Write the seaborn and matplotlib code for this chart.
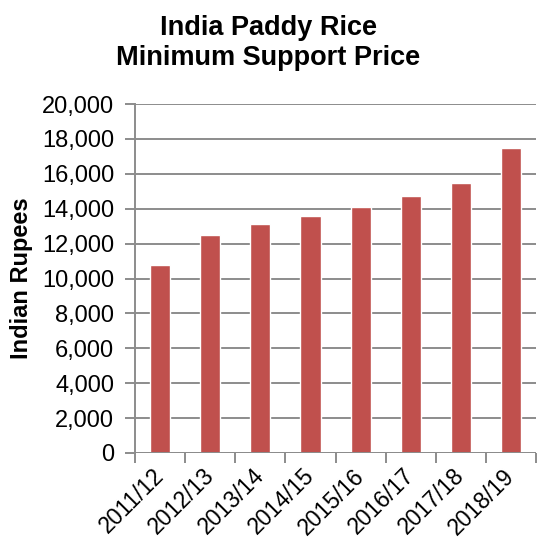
import matplotlib
matplotlib.use('Agg')
import matplotlib.pyplot as plt
import seaborn as sns
import pandas as pd
import numpy as np
from matplotlib.ticker import FuncFormatter, FixedLocator

years = ['2011/12', '2012/13', '2013/14', '2014/15', '2015/16', '2016/17', '2017/18', '2018/19']
msp = [10800, 12500, 13100, 13600, 14100, 14700, 15500, 17500]

df = pd.DataFrame({'year': years, 'msp': msp})

sns.set_style('white')
plt.rcParams['font.family'] = ['Liberation Sans', 'DejaVu Sans']
plt.rcParams['text.color'] = 'black'
plt.rcParams['axes.labelcolor'] = 'black'
plt.rcParams['xtick.labelcolor'] = 'black'
plt.rcParams['ytick.labelcolor'] = 'black'

fig = plt.figure(figsize=(5.37, 5.44), dpi=100)
ax = fig.add_axes([0.2514, 0.1673, 0.747, 0.6415])

sns.barplot(data=df, x='year', y='msp', color='#C0504D', width=0.4,
            saturation=1, ax=ax, zorder=3)

ax.set_ylim(0, 20000)
ax.set_xlim(-0.5, len(years) - 0.5)
ax.set_yticks(np.arange(0, 20001, 2000))
ax.yaxis.set_major_formatter(FuncFormatter(lambda v, p: f'{int(v):,}'))
ax.grid(axis='y', color='#8c8c8c', linewidth=1.4, zorder=0)
ax.set_axisbelow(True)

for s in ['top', 'right', 'bottom']:
    ax.spines[s].set_visible(False)
ax.spines['left'].set_color('#8c8c8c')
ax.spines['left'].set_linewidth(1.4)
ax.axhline(0, color='#8c8c8c', linewidth=1.4, zorder=4)

ax.tick_params(axis='y', length=7, width=1.4, color='#8c8c8c', labelsize=17, pad=8, left=True,
               labelcolor='black')
ax.tick_params(axis='x', which='major', length=0, labelsize=16.5, pad=14, labelcolor='black')
ax.xaxis.set_minor_locator(FixedLocator(np.arange(-0.5, len(years), 1.0)))
ax.tick_params(axis='x', which='minor', length=7, width=1.4, color='#8c8c8c', bottom=True)
plt.setp(ax.get_xticklabels(), rotation=45, ha='right', va='center', rotation_mode='anchor')

ax.set_xlabel('')
ax.set_ylabel('Indian Rupees', fontsize=17, fontweight='bold', color='black')
ax.yaxis.set_label_coords(-0.255, 0.5)

fig.text(0.5, 1 - 35 / 544, 'India Paddy Rice', ha='center', va='baseline',
         fontsize=19.5, fontweight='bold', color='black')
fig.text(0.5, 1 - 65 / 544, 'Minimum Support Price', ha='center', va='baseline',
         fontsize=19.5, fontweight='bold', color='black')

fig.savefig('out.png', dpi=100)
